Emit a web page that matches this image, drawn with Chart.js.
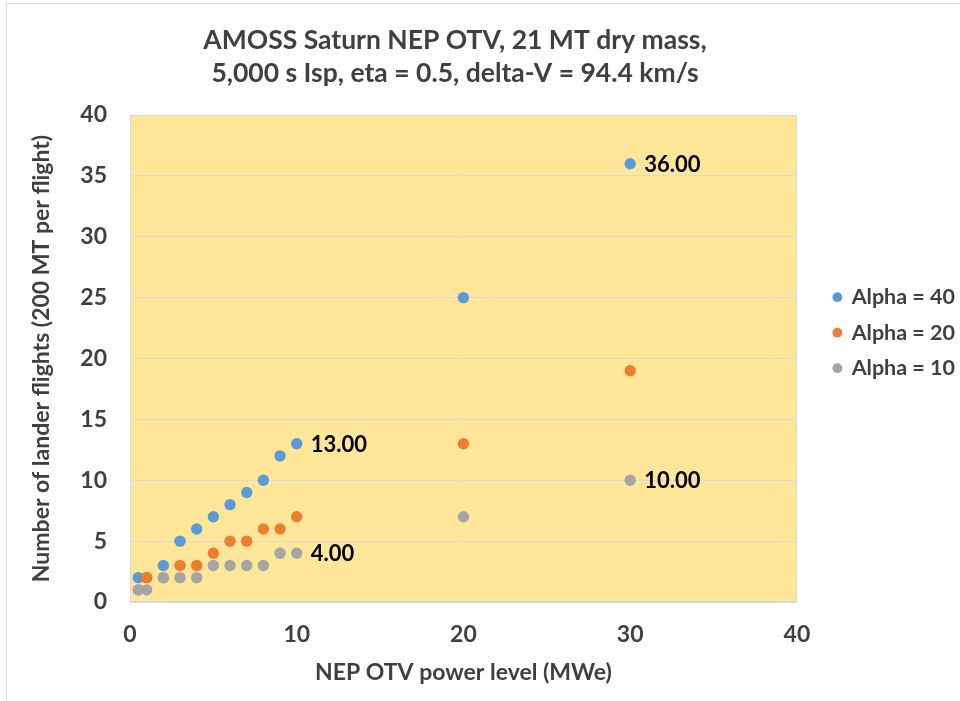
<!DOCTYPE html>
<html lang="en">
<head>
    <meta charset="UTF-8">
    <title>AMOSS Saturn NEP OTV</title>
    <script src="https://cdn.jsdelivr.net/npm/chart.js@4.4.1/dist/chart.umd.min.js"></script>
    <style>
        html, body { margin: 0; padding: 0; background: #fff; overflow: hidden; }
        #frame { position: absolute; left: 6px; top: 3px; width: 980px; height: 720px; border: 1px solid #d9d9d9; }
        #chart { position: absolute; left: 0; top: 0; }
    </style>
</head>
<body>
    <div id="frame"></div>
    <canvas id="chart" width="960" height="701"></canvas>

    <script>
// power level (MWe) shared by all series
var powerLevels = [0.5, 1, 2, 3, 4, 5, 6, 7, 8, 9, 10, 20, 30];

// number of lander flights for each alpha
var alpha40 = [2, 2, 3, 5, 6, 7, 8, 9, 10, 12, 13, 25, 36];
var alpha20 = [1, 2, 2, 3, 3, 4, 5, 5, 6, 6, 7, 13, 19];
var alpha10 = [1, 1, 2, 2, 2, 3, 3, 3, 3, 4, 4, 7, 10];

var seriesNames = ["Alpha = 40", "Alpha = 20", "Alpha = 10"];
var seriesColors = ["#5B9BD5", "#ED7D31", "#A5A5A5"];

// which points carry a value label: [series index, point index]
var labelledPoints = [[0, 10], [0, 12], [2, 10], [2, 12]];

var xTicks = [0, 10, 20, 30, 40];
var yTicks = [0, 5, 10, 15, 20, 25, 30, 35, 40];

var titleLines = ["AMOSS Saturn NEP OTV, 21 MT dry mass,", "5,000 s Isp, eta = 0.5, delta-V = 94.4 km/s"];

function toPoints(ys) {
    return ys.map(function(y, i) { return { x: powerLevels[i], y: y }; });
}

var fontFamily = "Lato, 'Open Sans', sans-serif";
var textColor = "#404040";

// plot area fill + frame
var plotBackground = {
    id: "plotBackground",
    beforeDraw: function(chart) {
        var a = chart.chartArea;
        var ctx = chart.ctx;
        ctx.save();
        ctx.fillStyle = "#FFE699";
        ctx.fillRect(a.left, a.top, a.right - a.left, a.bottom - a.top);
        ctx.restore();
    },
    afterDatasetsDraw: function(chart) {
        var a = chart.chartArea;
        var ctx = chart.ctx;
        ctx.save();
        ctx.strokeStyle = "#D9D9D9";
        ctx.lineWidth = 1;
        ctx.strokeRect(a.left + 0.5, a.top + 0.5, a.right - a.left - 1, a.bottom - a.top - 1);
        ctx.restore();
    }
};

// value labels to the right of selected points
var valueLabels = {
    id: "valueLabels",
    afterDatasetsDraw: function(chart) {
        var ctx = chart.ctx;
        ctx.save();
        ctx.font = "bold 22px " + fontFamily;
        ctx.fillStyle = "#000";
        ctx.textAlign = "left";
        ctx.textBaseline = "middle";
        labelledPoints.forEach(function(p) {
            var el = chart.getDatasetMeta(p[0]).data[p[1]];
            var v = chart.data.datasets[p[0]].data[p[1]].y;
            ctx.fillText(v.toFixed(2), el.x + 14, el.y + 1);
        });
        ctx.restore();
    }
};

// two-line chart title, sitting a bit left of centre like the original
var chartTitle = {
    id: "chartTitle",
    afterDraw: function(chart) {
        var ctx = chart.ctx;
        ctx.save();
        ctx.font = "bold 26.5px " + fontFamily;
        ctx.fillStyle = textColor;
        ctx.textAlign = "center";
        ctx.textBaseline = "middle";
        titleLines.forEach(function(line, i) {
            ctx.fillText(line, 455, 40 + i * 33);
        });
        ctx.restore();
    }
};

var ctx = document.getElementById("chart").getContext("2d");

var chart = new Chart(ctx, {
    type: "scatter",
    data: {
        datasets: [alpha40, alpha20, alpha10].map(function(ys, i) {
            return {
                label: seriesNames[i],
                data: toPoints(ys),
                order: 3 - i,
                backgroundColor: seriesColors[i],
                borderColor: seriesColors[i],
                pointRadius: 5.7,
                pointHoverRadius: 5.7,
                pointBorderWidth: 0
            };
        })
    },
    options: {
        responsive: false,
        animation: false,
        layout: { padding: { left: 3, right: -5, top: 115, bottom: 6 } },
        plugins: {
            title: { display: false },
            legend: {
                position: "right",
                align: "start",
                fullSize: false,
                title: { display: true, text: " ", font: { size: 2 }, padding: { top: 0, bottom: 155 } },
                labels: {
                    usePointStyle: true,
                    pointStyle: "circle",
                    boxWidth: 7,
                    boxHeight: 7,
                    padding: 14,
                    color: textColor,
                    font: { family: fontFamily, size: 21.5, weight: "bold" },
                    sort: function(a, b) { return a.datasetIndex - b.datasetIndex; }
                }
            },
            tooltip: { enabled: false }
        },
        scales: {
            x: {
                type: "linear",
                min: 0,
                max: 40,
                afterBuildTicks: function(axis) {
                    axis.ticks = xTicks.map(function(v) { return { value: v }; });
                },
                afterFit: function(axis) { axis.height = 93; },
                grid: { display: false, drawTicks: false },
                border: { display: false },
                ticks: {
                    color: textColor,
                    padding: 19,
                    font: { family: fontFamily, size: 23, weight: "bold" }
                },
                title: {
                    display: true,
                    text: "NEP OTV power level (MWe)",
                    color: textColor,
                    font: { family: fontFamily, size: 23, weight: "bold" },
                    padding: { top: 9, bottom: 9 }
                }
            },
            y: {
                type: "linear",
                min: 0,
                max: 40,
                afterBuildTicks: function(axis) {
                    axis.ticks = yTicks.map(function(v) { return { value: v }; });
                },
                afterFit: function(axis) { axis.width = 127; },
                grid: { color: "#D9D9D9", drawTicks: false },
                border: { display: false },
                ticks: {
                    color: textColor,
                    padding: 23,
                    font: { family: fontFamily, size: 23, weight: "bold" }
                },
                title: {
                    display: true,
                    text: "Number of lander flights (200 MT per flight)",
                    color: textColor,
                    font: { family: fontFamily, size: 23, weight: "bold" },
                    padding: { top: 25, bottom: 4 }
                }
            },
            // empty spacer between plot and legend
            gap: {
                type: "linear",
                position: "right",
                min: 0,
                max: 40,
                grid: { display: false, drawTicks: false },
                border: { display: false },
                ticks: { display: false },
                afterFit: function(axis) { axis.width = 23; }
            }
        }
    },
    plugins: [plotBackground, valueLabels, chartTitle]
});
    </script>
</body>
</html>
